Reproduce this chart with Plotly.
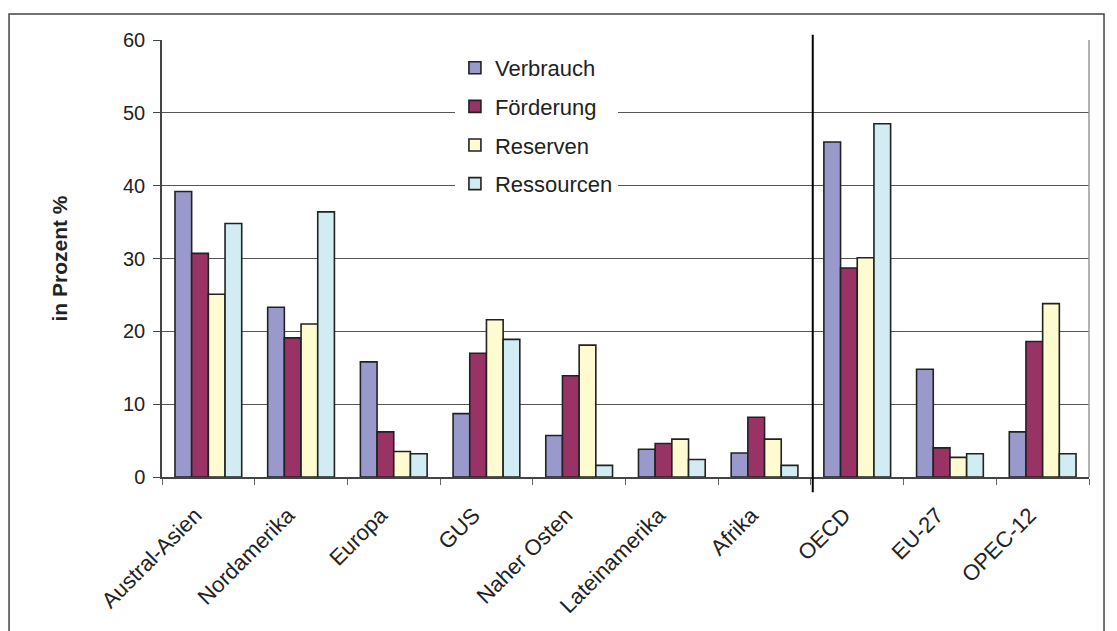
import plotly.graph_objects as go

categories = ["Austral-Asien", "Nordamerika", "Europa", "GUS", "Naher Osten",
              "Lateinamerika", "Afrika", "OECD", "EU-27", "OPEC-12"]
verbrauch = [39.2, 23.3, 15.8, 8.7, 5.7, 3.8, 3.3, 46.0, 14.8, 6.2]
foerderung = [30.7, 19.1, 6.2, 17.0, 13.9, 4.6, 8.2, 28.7, 4.0, 18.6]
reserven = [25.1, 21.0, 3.5, 21.6, 18.1, 5.2, 5.2, 30.1, 2.7, 23.8]
ressourcen = [34.8, 36.4, 3.2, 18.9, 1.6, 2.4, 1.6, 48.5, 3.2, 3.2]

series = [
    ("Verbrauch", verbrauch, "#9999CC"),
    ("Förderung", foerderung, "#993366"),
    ("Reserven", reserven, "#FFFBD0"),
    ("Ressourcen", ressourcen, "#D2ECF3"),
]

FONT = "Liberation Sans, Arial, sans-serif"
TXT = "#222222"
NBSP = "\u00a0"

fig = go.Figure()
for i, (name, vals, col) in enumerate(series):
    fig.add_trace(go.Bar(
        x=categories, y=vals, name=name, legendgroup=f"g{i}",
        marker=dict(color=col, line=dict(color="#222222", width=1.6)),
    ))

fig.update_layout(
    width=1109, height=623,
    margin=dict(l=154, r=28, t=32, b=154),
    paper_bgcolor="white", plot_bgcolor="white",
    barmode="group", bargap=0.28, bargroupgap=0,
    font=dict(family=FONT, size=20, color=TXT),
    showlegend=True,
    legend=dict(
        x=0.316, y=0.984, xanchor="left", yanchor="top",
        bgcolor="white", font=dict(family=FONT, size=22, color=TXT),
        traceorder="grouped", tracegroupgap=7,
    ),
    xaxis=dict(
        type="category", tickangle=-45, ticks="outside", tickson="boundaries",
        ticklen=6, tickcolor="#666666", showline=True, linecolor="#444444",
        linewidth=1.5, showgrid=False, ticklabelstandoff=2,
        tickmode="array", tickvals=categories,
        ticktext=[c + NBSP * 3 for c in categories],
        tickfont=dict(family=FONT, size=22, color=TXT),
    ),
    yaxis=dict(
        range=[0, 60], dtick=10, ticks="outside", ticklen=7, tickcolor="#444444",
        showline=True, linecolor="#444444", linewidth=1.5,
        showgrid=True, gridcolor="#555555", gridwidth=1,
        ticklabelstandoff=4,
        tickfont=dict(family=FONT, size=20, color=TXT),
        title=dict(text="<b>in Prozent %</b>", standoff=50,
                   font=dict(family=FONT, size=21, color=TXT)),
    ),
    shapes=[
        dict(type="line", xref="paper", yref="paper", x0=1, x1=1, y0=0, y1=1,
             line=dict(color="#999999", width=1.5)),
        dict(type="line", xref="x", yref="paper", x0=6.52, x1=6.52, y0=-0.035, y1=1.012,
             line=dict(color="black", width=2)),
        dict(type="rect", xref="paper", yref="paper", x0=-0.165, x1=1.0162,
             y0=-0.6, y1=1.0595, line=dict(color="#444444", width=1.5),
             fillcolor="rgba(0,0,0,0)", layer="above"),
    ],
)

fig.write_html("out.html")
